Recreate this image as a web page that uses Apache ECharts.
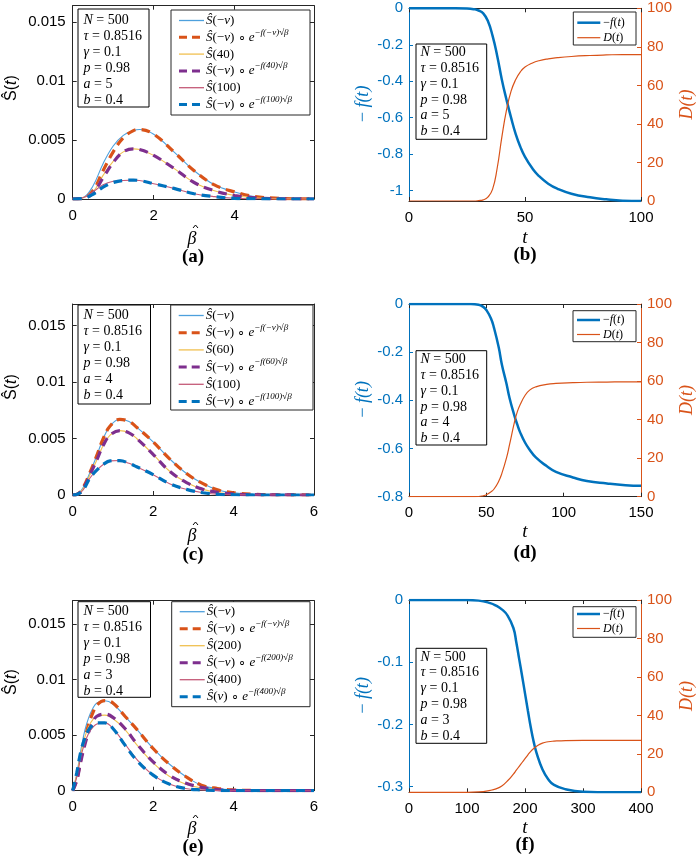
<!DOCTYPE html>
<html>
<head>
<meta charset="utf-8">
<script src="https://cdn.jsdelivr.net/npm/echarts@6/dist/echarts.min.js"></script>
<style>
  html, body { margin: 0; padding: 0; background: #fff; }
  #chart { width: 697px; height: 864px; }
</style>
</head>
<body>
<div id="chart"></div>
<script>
// ---- data ----
// (a) a = 5
const aBeta     = [0, 0.25, 0.5, 0.75, 1, 1.25, 1.5, 1.65, 2, 2.5, 3, 3.5, 4, 4.5, 5, 5.5, 5.96];
const aSnu      = [0, 0.0001, 0.0011, 0.0030, 0.0045, 0.0054, 0.0058, 0.0059, 0.0055, 0.0040, 0.0024, 0.0012, 0.0006, 0.0002, 0.00007, 0.00002, 0];
const aSnuDash  = [0, 0.00005, 0.0007, 0.0024, 0.0040, 0.0052, 0.0058, 0.0059, 0.0055, 0.0040, 0.0024, 0.0012, 0.0006, 0.0002, 0.00007, 0.00002, 0];
const aS40      = [0, 0.0001, 0.0006, 0.0020, 0.0032, 0.0040, 0.00425, 0.0042, 0.0037, 0.0026, 0.0014, 0.0007, 0.0003, 0.0001, 0.00003, 0.00001, 0];
const aS40Dash  = [0, 0.00005, 0.0005, 0.0018, 0.0031, 0.0040, 0.00425, 0.0042, 0.0037, 0.0026, 0.0014, 0.0007, 0.0003, 0.0001, 0.00003, 0.00001, 0];
const aS100     = [0, 0.0001, 0.0006, 0.0012, 0.0015, 0.00157, 0.0016, 0.00157, 0.0013, 0.0009, 0.00045, 0.0002, 0.00006, 0.00002, 0, 0, 0];
const aS100Dash = [0, 0.00005, 0.0004, 0.0010, 0.0014, 0.00157, 0.0016, 0.00157, 0.0013, 0.0009, 0.00045, 0.0002, 0.00006, 0.00002, 0, 0, 0];

// (c) a = 4
const cBeta = [0, 0.1, 0.25, 0.43, 0.6, 0.76, 0.93, 1.17, 1.4, 1.59, 2, 2.41, 2.83, 3.24, 3.66, 4.07, 4.5, 5, 6];
const cSnu  = [0, 0.00005, 0.0006, 0.0020, 0.0035, 0.0050, 0.0061, 0.0067, 0.0065, 0.0060, 0.0047, 0.0032, 0.0019, 0.0010, 0.0004, 0.00018, 0.00007, 0.00002, 0];
const cS60  = [0, 0.00005, 0.0005, 0.0018, 0.0031, 0.0044, 0.0053, 0.0057, 0.0055, 0.0050, 0.0036, 0.0021, 0.0011, 0.0005, 0.0002, 0.00008, 0.00003, 0.00001, 0];
const cS100 = [0, 0.00005, 0.0004, 0.0015, 0.0022, 0.0027, 0.00302, 0.00305, 0.0028, 0.0025, 0.0018, 0.0010, 0.0005, 0.0002, 0.00005, 0.00002, 0, 0, 0];

// (e) a = 3
const eBeta     = [0, 0.1, 0.2, 0.3, 0.4, 0.5, 0.6, 0.8, 1.0, 1.3, 1.6, 2.0, 2.4, 2.8, 3.2, 3.6, 4.0, 4.5, 5, 6];
const eSnu      = [0, 0.0015, 0.0036, 0.0054, 0.0066, 0.0074, 0.0079, 0.0081, 0.0078, 0.0067, 0.0055, 0.0038, 0.0024, 0.0013, 0.0005, 0.0002, 0.00007, 0.00002, 0, 0];
const eSnuDash  = [0, 0.0010, 0.0028, 0.0046, 0.0060, 0.0070, 0.0077, 0.0081, 0.0079, 0.0067, 0.0055, 0.0038, 0.0024, 0.0013, 0.0005, 0.0002, 0.00007, 0.00002, 0, 0];
const eS200     = [0, 0.0014, 0.0033, 0.0048, 0.0058, 0.0064, 0.0067, 0.0068, 0.0065, 0.0055, 0.0041, 0.0025, 0.0013, 0.0006, 0.00025, 0.0001, 0.00003, 0, 0, 0];
const eS200Dash = [0, 0.0009, 0.0026, 0.0041, 0.0053, 0.0062, 0.0067, 0.0069, 0.0066, 0.0056, 0.0042, 0.0026, 0.0014, 0.0007, 0.0003, 0.0001, 0.00003, 0, 0, 0];
const eS400     = [0, 0.0012, 0.0030, 0.0043, 0.0052, 0.0057, 0.0060, 0.0061, 0.0056, 0.0042, 0.0028, 0.0014, 0.0006, 0.0002, 0.00007, 0.00002, 0, 0, 0, 0];
const eS400Dash = [0, 0.0016, 0.0035, 0.0047, 0.0055, 0.0059, 0.0061, 0.0061, 0.0056, 0.0041, 0.0027, 0.0014, 0.0006, 0.0002, 0.00007, 0.00002, 0, 0, 0, 0];

// (b) -f(t) and D(t), a = 5
const bT = [0, 10, 20, 25, 28, 30, 32, 34, 36, 38, 40, 42, 44, 46, 48, 50, 53, 56, 60, 64, 70, 78, 85, 92, 100];
const bF = [0, 0, 0, -0.001, -0.005, -0.012, -0.028, -0.07, -0.15, -0.26, -0.39, -0.50, -0.60, -0.69, -0.76, -0.815, -0.875, -0.92, -0.962, -0.99, -1.017, -1.037, -1.048, -1.055, -1.057];
const bD = [0, 0, 0, 0, 0, 0.2, 0.6, 2, 6, 17, 33, 47, 57, 63, 67, 69.5, 71.5, 72.8, 73.8, 74.4, 75, 75.5, 75.8, 76, 76];

// (d) a = 4
const dT = [0, 20, 40, 45, 48, 50, 53, 55, 58, 60, 63, 65, 68, 70, 72, 75, 78, 82, 89, 95, 106, 115, 128, 140, 150];
const dF = [0, 0, 0, -0.003, -0.012, -0.025, -0.06, -0.10, -0.18, -0.25, -0.33, -0.39, -0.46, -0.50, -0.535, -0.575, -0.605, -0.637, -0.673, -0.697, -0.72, -0.735, -0.745, -0.752, -0.755];
const dD = [0, 0, 0, 0.1, 0.5, 1, 2.5, 4, 8, 12, 20, 27, 38, 44, 48, 52.5, 55.3, 57, 58.3, 58.8, 59.2, 59.4, 59.5, 59.6, 59.6];

// (f) a = 3
const fT = [0, 50, 100, 120, 140, 150, 160, 170, 180, 185, 190, 195, 200, 205, 210, 215, 220, 230, 240, 250, 270, 300, 350, 400];
const fF = [0, 0, 0, -0.001, -0.005, -0.009, -0.015, -0.025, -0.045, -0.068, -0.095, -0.122, -0.15, -0.178, -0.205, -0.228, -0.246, -0.272, -0.288, -0.297, -0.304, -0.308, -0.309, -0.309];
const fD = [0, 0, 0, 0.2, 1, 1.8, 3.3, 6, 9.5, 11.5, 13.5, 15.5, 17.5, 19.5, 21.3, 22.8, 24, 25.6, 26.3, 26.6, 26.9, 27, 27, 27];

// ticks and parameter text
const fTicksB = [-1, -0.8, -0.6, -0.4, -0.2, 0];
const fTicksD = [-0.8, -0.6, -0.4, -0.2, 0];
const fTicksF = [-0.3, -0.2, -0.1, 0];
const paramNames = ['N', 'τ', 'γ', 'p', 'a', 'b'];
const paramVals = ['500', '0.8516', '0.1', '0.98', null, '0.4'];

const BLUE = '#0072BD', ORANGE = '#D95319', PURPLE = '#7E2F8E';
const THIN_BLUE = '#4DA0DD', THIN_YELLOW = '#F0C050', THIN_PINK = '#C45A78';
const SANS = 'Liberation Sans, Arial, sans-serif';
const SERIF = 'Liberation Serif, Times New Roman, serif';
const AX = '#262626';

const grids = [], xAxes = [], yAxes = [], series = [], graphics = [];

function pairs(xs, ys) { return xs.map((x, i) => [x, ys[i]]); }
function tick(color, extra) { return Object.assign({ show: true, inside: true, length: 4, lineStyle: { color: color, width: 1 } }, extra || {}); }
function line(color) { return { show: true, onZero: false, lineStyle: { color: color, width: 1 } }; }

function mathRich(size) {
  return {
    n: { fontFamily: SERIF, fontSize: size, lineHeight: size + 6 },
    i: { fontFamily: SERIF, fontSize: size, fontStyle: 'italic', lineHeight: size + 6 },
    sup: { fontFamily: SERIF, fontSize: Math.round(size * 0.68), fontStyle: 'italic', lineHeight: Math.round(size * 0.68), verticalAlign: 'top' },
    b: { fontFamily: SANS, fontSize: size, lineHeight: size + 6 },
    bi: { fontFamily: SANS, fontSize: size, fontStyle: 'italic', lineHeight: size + 6 }
  };
}

function text(x, y, str, opt) {
  opt = opt || {};
  graphics.push({
    type: 'text', x: x, y: y, rotation: opt.rot || 0, z: 20,
    style: {
      text: str, fill: opt.color || '#000',
      fontFamily: opt.family || SERIF, fontSize: opt.size || 14,
      fontStyle: opt.italic ? 'italic' : 'normal', fontWeight: opt.bold ? 'bold' : 'normal',
      align: opt.align || 'center', verticalAlign: 'middle',
      rich: opt.rich
    }
  });
}

function rect(x0, y0, x1, y1, stroke) {
  graphics.push({ type: 'rect', z: 10, shape: { x: x0, y: y0, width: x1 - x0, height: y1 - y0 },
    style: { fill: '#fff', stroke: stroke || '#000', lineWidth: 1 } });
}

function sample(x0, x1, y, color, width, dash) {
  graphics.push({ type: 'line', z: 15, shape: { x1: x0, y1: y, x2: x1, y2: y },
    style: { stroke: color, lineWidth: width, lineDash: dash || null } });
}

// small circumflex accent drawn as a two-segment stroke
function hat(cx, cy, w, h) {
  graphics.push({ type: 'polyline', z: 21, shape: { points: [[cx - w / 2, cy + h / 2], [cx, cy - h / 2], [cx + w / 2, cy + h / 2]] },
    style: { stroke: '#000', lineWidth: 1, fill: null } });
}

function paramBox(box, rowY, step, textX, aVal) {
  rect(box[0], box[1], box[2], box[3], '#000');
  paramNames.forEach((nm, k) => {
    const v = k === 4 ? aVal : paramVals[k];
    text(textX, rowY + k * step, '{i|' + nm + '}{n| = ' + v + '}', { align: 'left', rich: mathRich(14) });
  });
}

// S-hat panel (left column)
function sPanel(box, xMax, yMax, xs, curves) {
  const g = grids.length;
  grids.push({ left: box[0], top: box[1], width: box[2], height: box[3] });
  const xi = xAxes.length, yi = yAxes.length;
  xAxes.push({ type: 'value', gridIndex: g, position: 'bottom', min: 0, max: xMax, interval: 2,
    axisLine: line(AX), axisTick: tick(AX), splitLine: { show: false },
    axisLabel: { fontSize: 15, color: '#000', fontFamily: SANS, margin: 9, showMaxLabel: xMax === 6 } });
  xAxes.push({ type: 'value', gridIndex: g, position: 'top', min: 0, max: xMax, interval: 2,
    axisLine: line(AX), axisTick: tick(AX), splitLine: { show: false }, axisLabel: { show: false } });
  yAxes.push({ type: 'value', gridIndex: g, position: 'left', min: 0, max: yMax, interval: 0.005,
    axisLine: line(AX), axisTick: tick(AX), splitLine: { show: false },
    axisLabel: { fontSize: 15, color: '#000', fontFamily: SANS, margin: 7, showMaxLabel: false } });
  yAxes.push({ type: 'value', gridIndex: g, position: 'right', min: 0, max: yMax, interval: 0.005,
    axisLine: line(AX), axisTick: tick(AX), splitLine: { show: false }, axisLabel: { show: false } });
  curves.forEach((c, k) => {
    series.push({ type: 'line', xAxisIndex: xi, yAxisIndex: yi, data: pairs(xs, c.y),
      symbol: 'none', smooth: 0.4, silent: true, z: 2 + k,
      lineStyle: { color: c.color, width: c.w, type: c.dash ? [9, 6] : 'solid' } });
  });
}

// -f(t) / D(t) panel (right column)
function fPanel(box, tMax, tStep, fMin, fTicks, ts, fs, ds) {
  const g = grids.length;
  grids.push({ left: box[0], top: box[1], width: box[2], height: box[3] });
  const xi = xAxes.length, yi = yAxes.length;
  xAxes.push({ type: 'value', gridIndex: g, position: 'bottom', min: 0, max: tMax, interval: tStep,
    axisLine: line(AX), axisTick: tick(AX), splitLine: { show: false },
    axisLabel: { fontSize: 15, color: '#000', fontFamily: SANS, margin: 9 } });
  xAxes.push({ type: 'value', gridIndex: g, position: 'top', min: 0, max: tMax, interval: tStep,
    axisLine: line(AX), axisTick: tick(AX), splitLine: { show: false }, axisLabel: { show: false } });
  yAxes.push({ type: 'value', gridIndex: g, position: 'left', min: fMin, max: 0,
    axisLine: line(BLUE), axisTick: tick(BLUE, { customValues: fTicks }), splitLine: { show: false },
    axisLabel: { customValues: fTicks, fontSize: 15, color: BLUE, fontFamily: SANS, margin: 6 } });
  yAxes.push({ type: 'value', gridIndex: g, position: 'right', min: 0, max: 100, interval: 20,
    axisLine: line(ORANGE), axisTick: tick(ORANGE), splitLine: { show: false },
    axisLabel: { fontSize: 15, color: ORANGE, fontFamily: SANS, margin: 6 } });
  series.push({ type: 'line', xAxisIndex: xi, yAxisIndex: yi, data: pairs(ts, fs), symbol: 'none',
    smooth: 0.5, silent: true, lineStyle: { color: BLUE, width: 2.5 } });
  series.push({ type: 'line', xAxisIndex: xi, yAxisIndex: yi + 1, data: pairs(ts, ds), symbol: 'none',
    smooth: 0.5, silent: true, lineStyle: { color: ORANGE, width: 1.2 } });
}

function sCurves(s1, s1d, s2, s2d, s3, s3d) {
  return [
    { y: s1, color: THIN_BLUE, w: 1.1 },
    { y: s1d, color: ORANGE, w: 3.2, dash: true },
    { y: s2, color: THIN_YELLOW, w: 1.1 },
    { y: s2d, color: PURPLE, w: 3.2, dash: true },
    { y: s3, color: THIN_PINK, w: 1.1 },
    { y: s3d, color: BLUE, w: 3.2, dash: true }
  ];
}

function sLegend(box, rowY, step, t1, t2, lastArg) {
  rect(box[0], box[1], box[2], box[3], AX);
  const sx0 = box[0] + 8, sx1 = box[0] + 33, tx = box[0] + 35;
  const cols = [[THIN_BLUE, 1.3, null], [ORANGE, 3, [8, 5]], [THIN_YELLOW, 1.3, null],
                [PURPLE, 3, [8, 5]], [THIN_PINK, 1.3, null], [BLUE, 3, [8, 5]]];
  const base = '{i|Ŝ}{n|(−}{i|ν}{n|) ∘ }{i|e}';
  const labels = [
    '{i|Ŝ}{n|(−}{i|ν}{n|)}',
    base + '{sup|−f(−ν)√β}',
    '{i|Ŝ}{n|(' + t1 + ')}',
    base + '{sup|−f(' + t1 + ')√β}',
    '{i|Ŝ}{n|(' + t2 + ')}',
    (lastArg ? '{i|Ŝ}{n|(}{i|ν}{n|) ∘ }{i|e}' : base) + '{sup|−f(' + t2 + ')√β}'
  ];
  labels.forEach((lb, k) => {
    const y = rowY + k * step;
    sample(sx0, sx1, y, cols[k][0], cols[k][1], cols[k][2]);
    text(tx, y, lb, { align: 'left', rich: mathRich(13) });
  });
}

function fLegend(box, rowY, step) {
  rect(box[0], box[1], box[2], box[3], AX);
  sample(box[0] + 4, box[0] + 27, rowY, BLUE, 2.5);
  text(box[0] + 30, rowY, '{n|−}{i|f}{n|(}{i|t}{n|)}', { align: 'left', rich: mathRich(12) });
  sample(box[0] + 4, box[0] + 27, rowY + step, ORANGE, 1.2);
  text(box[0] + 30, rowY + step, '{i|D}{n|(}{i|t}{n|)}', { align: 'left', rich: mathRich(12) });
}

// ---- panels ----
sPanel([72.7, 5.7, 241.3, 193.3], 5.96, 0.0164, aBeta, sCurves(aSnu, aSnuDash, aS40, aS40Dash, aS100, aS100Dash));
fPanel([409, 8.3, 232, 192.7], 100, 50, -1.057, fTicksB, bT, bF, bD);
sPanel([72.7, 304, 241.3, 191], 6, 0.0169, cBeta, sCurves(cSnu, cSnu, cS60, cS60, cS100, cS100));
fPanel([409, 304, 232, 192.7], 150, 50, -0.8, fTicksD, dT, dF, dD);
sPanel([72.7, 600.7, 241.3, 190], 6, 0.0171, eBeta, sCurves(eSnu, eSnuDash, eS200, eS200Dash, eS400, eS400Dash));
fPanel([409, 600, 232, 192.3], 400, 100, -0.309, fTicksF, fT, fF, fD);

// boxes
paramBox([78, 9, 149, 107], 20, 16, 83.5, '5');
paramBox([78, 305, 150.5, 404], 315.5, 16, 83.5, '4');
paramBox([78, 601.7, 150.5, 697.3], 611, 16, 83.5, '3');
paramBox([416, 44, 486.7, 139.3], 52.5, 15.8, 420.5, '5');
paramBox([416, 350.7, 486.7, 445], 359.5, 15.8, 420.5, '4');
paramBox([416, 648.3, 486.7, 743.3], 657, 15.8, 420.5, '3');

sLegend([171, 10, 310, 115], 20.5, 16.8, '40', '100', false);
sLegend([170.7, 305, 313, 410], 315.5, 17.2, '60', '100', false);
sLegend([171.7, 601.7, 310, 706.7], 611.7, 17, '200', '400', true);

fLegend([573.3, 12, 636, 45], 22.7, 15);
fLegend([573, 310.7, 636, 341.7], 320, 14.5);
fLegend([573, 606.7, 636, 637.3], 614, 14.5);

// axis titles and captions
const sTitle = '{b|Ŝ(}{bi|t}{b|)}';
[[88, 239, 257, '(a)'], [387, 536, 555, '(c)'], [682, 829, 847, '(e)']].forEach(r => {
  text(12, r[0], sTitle, { rot: Math.PI / 2, rich: mathRich(16) });
  text(192, r[1], 'β', { italic: true, size: 18 });
  hat(195.5, r[1] - 12.5, 5, 3);
  text(193, r[2], r[3], { bold: true, size: 19 });
});
[[104.5, 238, 255, '(b)'], [400, 531.7, 553, '(d)'], [696, 828, 845, '(f)']].forEach(r => {
  text(363, r[0], '−\u2009f(t)', { rot: Math.PI / 2, italic: true, size: 18, color: BLUE });
  text(687, r[0], 'D(t)', { rot: Math.PI / 2, italic: true, size: 18, color: ORANGE });
  text(525, r[1], 't', { italic: true, size: 19 });
  text(525, r[2], r[3], { bold: true, size: 19 });
});

const chart = echarts.init(document.getElementById('chart'));
chart.setOption({
  animation: false,
  backgroundColor: '#fff',
  grid: grids,
  xAxis: xAxes,
  yAxis: yAxes,
  series: series,
  graphic: graphics
});
</script>
</body>
</html>
